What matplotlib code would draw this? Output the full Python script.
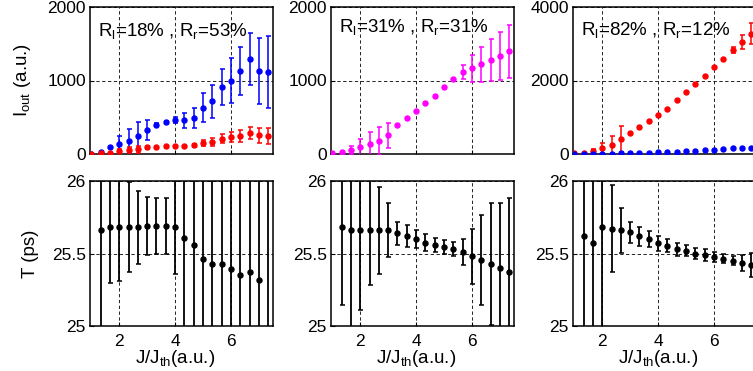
import numpy as np
import matplotlib
matplotlib.use('Agg')
import matplotlib.pyplot as plt

plt.rcParams['font.family'] = ['Liberation Sans', 'DejaVu Sans']
plt.rcParams['mathtext.fontset'] = 'custom'
plt.rcParams['mathtext.rm'] = 'Liberation Sans'
plt.rcParams['mathtext.it'] = 'Liberation Sans:italic'

# pump current J/Jth for every measured point
J = [1.0, 1.33, 1.67, 2.0, 2.33, 2.67, 3.0, 3.33, 3.67, 4.0,
     4.33, 4.67, 5.0, 5.33, 5.67, 6.0, 6.33, 6.67, 7.0, 7.33]
# the period T is only measured from the second point on
JT = J[1:]

# output intensity, case 1 (Rl=18%, Rr=53%)
I1_blue = [5, 30, 90, 130, 180, 250, 330, 400, 430, 460,
           460, 490, 630, 720, 910, 1000, 1130, 1290, 1130, 1120]
E1_blue = [0, 0, 0, 110, 165, 190, 135, 25, 25, 45,
           100, 140, 195, 225, 250, 305, 330, 355, 450, 490]
I1_red = [2, 8, 20, 40, 50, 65, 90, 100, 105, 110,
          110, 120, 145, 165, 210, 230, 245, 285, 255, 250]
E1_red = [0, 0, 0, 25, 40, 45, 20, 0, 0, 0,
          0, 20, 40, 50, 60, 70, 80, 85, 100, 110]

# case 2 (Rl=31%, Rr=31%)
I2 = [10, 25, 55, 90, 135, 180, 255, 390, 490, 585,
      690, 795, 915, 1025, 1110, 1165, 1220, 1275, 1335, 1400]
E2 = [0, 0, 55, 115, 165, 190, 168, 0, 0, 0,
      0, 0, 0, 0, 95, 180, 240, 285, 330, 360]

# case 3 (Rl=82%, Rr=12%)
I3_red = [18, 36, 90, 155, 245, 400, 580, 725, 885, 1070,
          1230, 1465, 1685, 1900, 2120, 2355, 2590, 2825, 3050, 3275]
E3_red = [0, 0, 50, 145, 250, 350, 0, 0, 0, 0,
          0, 0, 0, 0, 0, 0, 0, 90, 180, 280]
I3_blue = [0, 3, 6, 9, 12, 18, 24, 30, 37, 44,
           55, 64, 74, 86, 100, 120, 135, 150, 162, 172]

# period T (ps) and its spread
T1 = [25.66, 25.68, 25.68, 25.68, 25.68, 25.69, 25.69, 25.69, 25.68, 25.61,
      25.56, 25.46, 25.43, 25.43, 25.39, 25.35, 25.37, 25.32, 24.9]
ET1 = [1.5, 0.38, 0.37, 0.31, 0.25, 0.20, 0.19, 0.19, 0.32, 1.5,
       1.5, 1.5, 1.5, 1.5, 1.5, 1.5, 1.5, 1.5, 1.5]
T2 = [25.685, 25.66, 25.66, 25.66, 25.66, 25.66, 25.64, 25.62, 25.60, 25.575,
      25.56, 25.545, 25.53, 25.51, 25.48, 25.455, 25.425, 25.40, 25.37]
ET2 = [0.54, 0.8, 0.55, 0.38, 0.30, 0.185, 0.08, 0.075, 0.065, 0.06,
       0.05, 0.05, 0.05, 0.09, 0.19, 0.31, 0.42, 0.45, 0.51]
T3 = [25.62, 25.57, 25.68, 25.67, 25.66, 25.645, 25.62, 25.60, 25.57, 25.555,
      25.53, 25.52, 25.50, 25.49, 25.475, 25.465, 25.45, 25.435, 25.42]
ET3 = [1.5, 1.5, 1.5, 0.30, 0.155, 0.075, 0.065, 0.055, 0.05, 0.045,
       0.045, 0.04, 0.04, 0.04, 0.035, 0.03, 0.03, 0.055, 0.085]

labels = [r'R$_\mathrm{l}$=18% , R$_\mathrm{r}$=53%',
          r'R$_\mathrm{l}$=31% , R$_\mathrm{r}$=31%',
          r'R$_\mathrm{l}$=82% , R$_\mathrm{r}$=12%']

W, H = 753, 371
fig = plt.figure(figsize=(W/100, H/100), dpi=100)

lefts = [90, 331, 573]
aw = 183

def style(ax, ylim, yticks):
    ax.set_xlim(0.95, 7.5)
    ax.set_xticks([2, 4, 6])
    ax.set_ylim(*ylim)
    ax.set_yticks(yticks)
    ax.set_axisbelow(True)
    ax.grid(True, color='k', linestyle=(0, (4, 3)), linewidth=0.6)
    ax.tick_params(direction='in', length=3, labelsize=12.5, pad=3)
    for s in ax.spines.values():
        s.set_linewidth(1.1)

def curve(ax, y, e, col, ms=3.6):
    y = np.array(y, dtype=float)
    e = np.array(e, dtype=float)
    x = np.array(J)
    m = e > 0
    ax.errorbar(x[m], y[m], yerr=e[m], fmt='none', ecolor=col,
                elinewidth=1.1, capsize=1.8, capthick=1.1, zorder=3)
    ax.plot(x, y, 'o', color=col, ms=ms, mec=col, zorder=4)

top = []
bot = []
for l in lefts:
    top.append(fig.add_axes([l/W, 1 - 154/H, aw/W, 147/H]))
    bot.append(fig.add_axes([l/W, 1 - 326/H, aw/W, 145/H]))

# top row: output intensity
style(top[0], (0, 2000), [0, 1000, 2000])
curve(top[0], I1_blue, E1_blue, '#0000ff')
curve(top[0], I1_red, E1_red, '#ff0000')

style(top[1], (0, 2000), [0, 1000, 2000])
curve(top[1], I2, E2, '#ff00ff')

style(top[2], (0, 4000), [0, 2000, 4000])
curve(top[2], I3_red, E3_red, '#ff0000')
curve(top[2], I3_blue, [0]*20, '#0000ff')

ty = [0.805, 0.83, 0.81]
for ax, lab, yy in zip(top, labels, ty):
    ax.set_xticklabels([])
    ax.text(0.045, yy, lab, transform=ax.transAxes, fontsize=13.5,
            va='baseline', ha='left')

top[0].set_ylabel(r'I$_\mathrm{out}$ (a.u.)', fontsize=13.5)
top[0].yaxis.set_label_coords(-0.31, 0.5)

# bottom row: period
for ax, T, ET in zip(bot, [T1, T2, T3], [ET1, ET2, ET3]):
    style(ax, (25, 26), [25, 25.5, 26])
    ax.set_yticklabels(['25', '25.5', '26'])
    ax.errorbar(JT, T, yerr=ET, fmt='o', color='k', ms=3.6,
                elinewidth=1.3, capsize=1.8, capthick=1.1, zorder=3)
    ax.tick_params(axis='x', pad=6)
    ax.set_xlabel(r'J/J$_\mathrm{th}$(a.u.)', fontsize=13.5)
    ax.xaxis.set_label_coords(0.465, -0.155)

bot[0].set_ylabel('T (ps)', fontsize=13.5)
bot[0].yaxis.set_label_coords(-0.28, 0.5)

fig.savefig('out.png', dpi=100)
